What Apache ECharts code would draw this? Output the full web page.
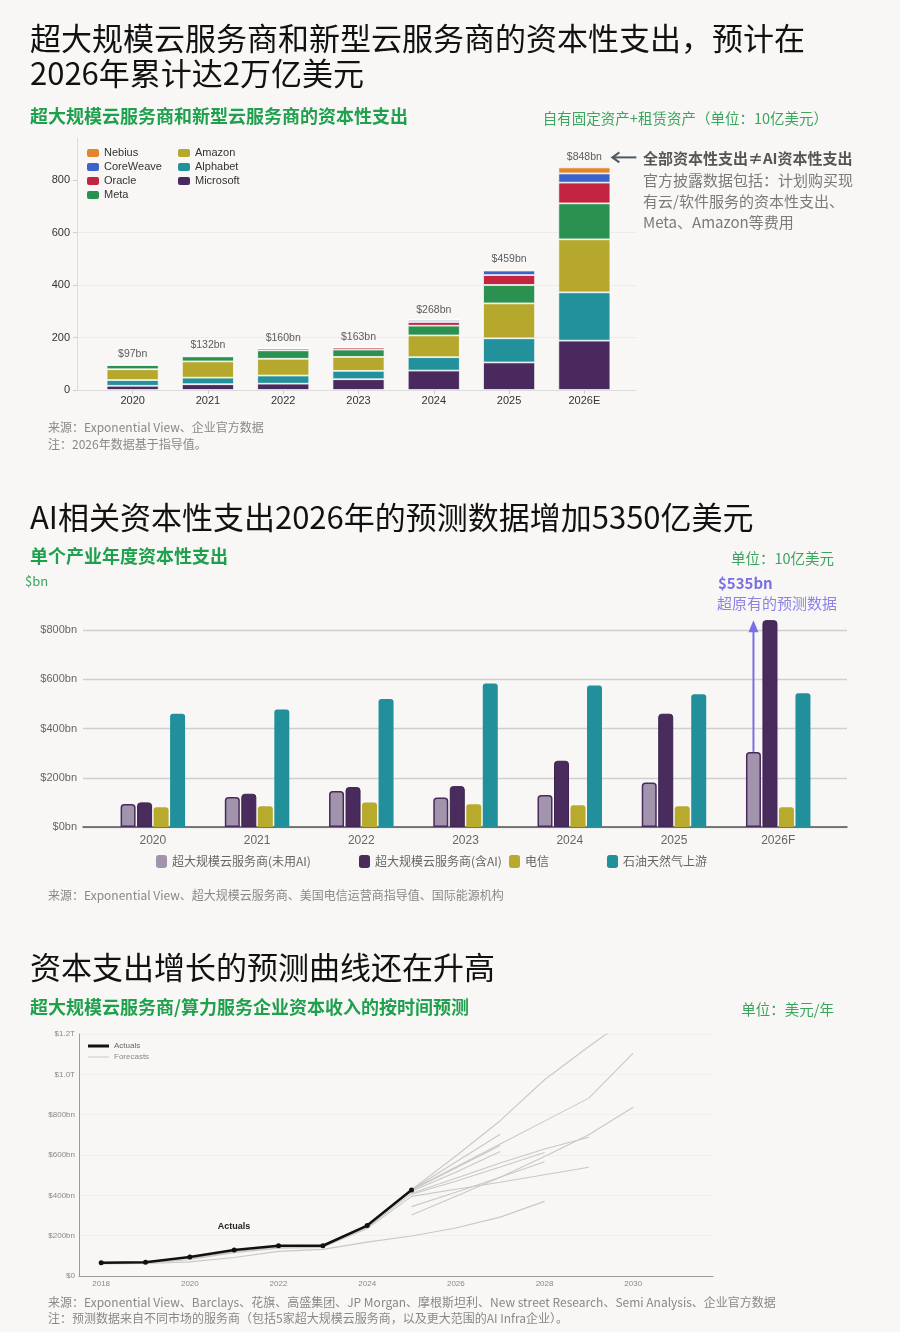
<!DOCTYPE html>
<html>
<head>
<meta charset="utf-8">
<script src="https://cdn.jsdelivr.net/npm/echarts@6.0.0/dist/echarts.min.js"></script>
<style>
    body { margin: 0; background: #f8f7f5; }
</style>
</head>
<body>
<div id="main" style="width: 900px;height:1332px;"></div>
<script>
// 图1：超大规模云服务商和新型云服务商的资本性支出（10亿美元）
var capexYears = ['2020', '2021', '2022', '2023', '2024', '2025', '2026E'];
var capexMicrosoft = [16, 22, 24, 41, 74, 105, 188];
var capexAlphabet = [22, 25, 31, 32, 51, 92, 184];
var capexAmazon = [41, 62, 64, 53, 83, 133, 202];
var capexMeta = [16, 19, 32, 28, 37, 70, 137];
var capexOracle = [2, 4, 7, 8, 14, 38, 79];
var capexCoreWeave = [0, 0, 2, 1, 8, 17, 35];
var capexNebius = [0, 0, 0, 0, 1, 4, 23];
var capexTotals = [97, 132, 160, 163, 268, 459, 848];
var capexTicks = [0, 200, 400, 600, 800];

// 图2：单个产业年度资本性支出
var sectorYears = ['2020', '2021', '2022', '2023', '2024', '2025', '2026F'];
var hyperNoAI = [93, 122, 146, 120, 130, 181, 305];
var hyperAI = [100, 135, 162, 166, 269, 460, 840];
var telecom = [80, 84, 100, 92, 88, 84, 80];
var oilGas = [460, 477, 520, 583, 575, 539, 543];

// 图3：实际值与各机构预测（[年份, 10亿美元]）
var lineYearTicks = [2018, 2020, 2022, 2024, 2026, 2028, 2030];
var actualYears = [2018, 2019, 2020, 2021, 2022, 2023, 2024, 2025];
var actualVals = [66, 68, 94, 129, 150, 150, 250, 427];
var fcLow = [[2018, 60], [2019, 62], [2020, 70], [2021, 92], [2022, 122], [2023, 132], [2024, 168], [2025, 198], [2026, 238], [2027, 292], [2028, 370]];
var fcHugA = [[2018, 62], [2019, 64], [2020, 82], [2021, 116], [2022, 138], [2023, 142], [2024, 235], [2025, 395], [2026, 430], [2027, 465], [2028, 502], [2029, 539]];
var fcHugB = [[2020, 86], [2021, 121], [2022, 143], [2023, 146], [2024, 240], [2025, 410], [2026, 485], [2027, 560], [2028, 630], [2029, 688]];
var fcTop = [[2024, 248], [2025, 428], [2026, 595], [2027, 770], [2028, 973], [2029, 1138], [2030, 1295]];
var fcSecond = [[2025, 428], [2026, 541], [2027, 655], [2028, 768], [2029, 882], [2030, 1105]];
var fcLate = [[2025, 303], [2026, 395], [2027, 490], [2028, 592], [2029, 700], [2030, 837]];
var fcShortA = [[2025, 344], [2026, 415], [2027, 490], [2028, 567]];
var fcShortB = [[2025, 405], [2026, 470], [2027, 540], [2028, 612]];
var fc2027A = [[2025, 428], [2026, 565], [2027, 703]];
var fc2027B = [[2025, 425], [2026, 535], [2027, 647]];
var fc2027C = [[2025, 420], [2026, 515], [2027, 617]];
var forecastLines = [fcLow, fcHugA, fcHugB, fcTop, fcSecond, fcLate, fcShortA, fcShortB, fc2027A, fc2027B, fc2027C];

var green = '#1fa04d';
var lightGreen = '#3ba55e';
var cjk = '"Noto Sans CJK SC", sans-serif';
var latin = '"Liberation Sans", Arial, sans-serif';

var idx7 = sectorYears.map(function (y, i) { return i; });
function pairs(arr) {
    return arr.map(function (v, i) { return [i, v]; });
}

var stackNames = ['Microsoft', 'Alphabet', 'Amazon', 'Meta', 'Oracle', 'CoreWeave', 'Nebius'];
var stackData = [capexMicrosoft, capexAlphabet, capexAmazon, capexMeta, capexOracle, capexCoreWeave, capexNebius];
var stackColors = ['#4a2a5e', '#23919b', '#b6a82c', '#2b9150', '#c3243f', '#3c64c8', '#e3862b'];

var series = [];
stackNames.forEach(function (name, k) {
    series.push({
        name: name,
        type: 'bar',
        xAxisIndex: 0,
        yAxisIndex: 0,
        stack: 'capex',
        barWidth: 52,
        itemStyle: { color: stackColors[k], borderColor: 'rgba(255,255,255,0.9)', borderWidth: 0.8 },
        data: stackData[k]
    });
});
// 柱顶合计
series.push({
    name: 'total',
    type: 'scatter',
    xAxisIndex: 0,
    yAxisIndex: 0,
    symbolSize: 1,
    itemStyle: { color: 'rgba(0,0,0,0)' },
    label: {
        show: true,
        position: 'top',
        distance: 4,
        color: '#333',
        fontSize: 10.5,
        fontFamily: latin,
        formatter: function (p) { return '$' + p.value + 'bn'; }
    },
    data: capexTotals
});

var sectorNames = ['超大规模云服务商(未用AI)', '超大规模云服务商(含AI)', '电信', '石油天然气上游'];
var sectorData = [hyperNoAI, hyperAI, telecom, oilGas];
var sectorStyles = [
    { color: '#a394ae', borderColor: '#482b5c', borderWidth: 1.5, borderRadius: [3, 3, 0, 0] },
    { color: '#4a2b5d', borderColor: '#3c2350', borderWidth: 1, borderRadius: [3, 3, 0, 0] },
    { color: '#b8aa2c', borderRadius: [3, 3, 0, 0] },
    { color: '#21909a', borderRadius: [3, 3, 0, 0] }
];
sectorNames.forEach(function (name, k) {
    series.push({
        name: name,
        type: 'bar',
        xAxisIndex: 1,
        yAxisIndex: 1,
        barWidth: 15,
        barGap: '10%',
        clip: false,
        itemStyle: sectorStyles[k],
        data: pairs(sectorData[k])
    });
});

forecastLines.forEach(function (line) {
    series.push({
        name: 'Forecasts',
        type: 'line',
        xAxisIndex: 2,
        yAxisIndex: 2,
        color: '#c8c8c8',
        symbol: 'none',
        lineStyle: { width: 1.1 },
        z: 2,
        data: line
    });
});
series.push({
    name: 'Actuals',
    type: 'line',
    xAxisIndex: 2,
    yAxisIndex: 2,
    color: '#111',
    symbol: 'circle',
    symbolSize: 5,
    lineStyle: { width: 2.6 },
    z: 10,
    data: actualYears.map(function (y, i) { return [y, actualVals[i]]; })
});

function legendBox(names, left, top, extra) {
    var l = {
        data: names,
        left: left,
        top: top,
        padding: 0,
        itemGap: 0,
        selectedMode: false,
        itemStyle: { borderWidth: 0 },
        textStyle: { fontSize: 11, color: '#333', fontFamily: latin, lineHeight: 14 }
    };
    for (var k in extra) { l[k] = extra[k]; }
    return l;
}

var sectorLegendText = { fontSize: 12, color: '#666', fontFamily: cjk };

var option = {
    backgroundColor: '#f8f7f5',
    animation: false,
    textStyle: { fontFamily: latin },
    grid: [
        { left: 95, right: 278, top: 138, bottom: 942 },   // 图1 柱子
        { left: 83, right: 53, top: 630, bottom: 505 },
        { left: 79, right: 187, top: 1034, bottom: 56 },
        { left: 77, right: 264, top: 138, bottom: 942 }    // 图1 外框坐标轴
    ],
    legend: [
        legendBox(['Nebius', 'CoreWeave', 'Oracle', 'Meta'], 87, 146, { orient: 'vertical', itemWidth: 12, itemHeight: 8 }),
        legendBox(['Amazon', 'Alphabet', 'Microsoft'], 178, 146, { orient: 'vertical', itemWidth: 12, itemHeight: 8 }),
        legendBox([sectorNames[0]], 156, 855, { itemWidth: 11, itemHeight: 13, textStyle: sectorLegendText }),
        legendBox([sectorNames[1]], 359, 855, { itemWidth: 11, itemHeight: 13, textStyle: sectorLegendText }),
        legendBox([sectorNames[2]], 509, 855, { itemWidth: 11, itemHeight: 13, textStyle: sectorLegendText }),
        legendBox([sectorNames[3]], 607, 855, { itemWidth: 11, itemHeight: 13, textStyle: sectorLegendText }),
        legendBox(['Actuals'], 88, 1042, { icon: 'rect', itemWidth: 21, itemHeight: 3, textStyle: { fontSize: 8, color: '#666', fontFamily: latin } }),
        legendBox(['Forecasts'], 88, 1053, { icon: 'rect', itemWidth: 21, itemHeight: 1, textStyle: { fontSize: 8, color: '#888', fontFamily: latin } })
    ],
    xAxis: [
        {
            gridIndex: 0, type: 'category', data: capexYears,
            axisLine: { show: false },
            axisTick: { show: true, alignWithLabel: true, length: 4, lineStyle: { color: '#cfcfcf' } },
            axisLabel: { color: '#333', fontSize: 11, margin: 5, interval: 0 },
            splitLine: { show: false }
        },
        {
            gridIndex: 1, type: 'value', min: -0.67, max: 6.66,
            axisLine: { lineStyle: { color: '#555', width: 1.5 } },
            axisTick: { show: false },
            axisLabel: { customValues: idx7, color: '#666', fontSize: 12, margin: 8,
                formatter: function (v) { return sectorYears[v]; } },
            splitLine: { show: false }
        },
        {
            gridIndex: 2, type: 'value', min: 2017.5, max: 2031.8,
            axisLine: { lineStyle: { color: '#9a9a9a' } },
            axisTick: { show: false },
            axisLabel: { customValues: lineYearTicks, color: '#888', fontSize: 8, margin: 4,
                formatter: function (v) { return String(v); } },
            splitLine: { show: false }
        },
        {
            gridIndex: 3, type: 'value', min: 0, max: 1,
            axisLine: { lineStyle: { color: '#dcdcdc' } },
            axisTick: { show: false },
            axisLabel: { show: false },
            splitLine: { show: false }
        }
    ],
    yAxis: [
        {
            gridIndex: 0, type: 'value', min: 0, max: 960,
            show: false
        },
        {
            gridIndex: 1, type: 'value', min: 0, max: 800, interval: 200,
            axisLine: { show: false, onZero: false },
            axisTick: { show: false },
            axisLabel: { color: '#666', fontSize: 11, margin: 6,
                formatter: function (v) { return '$' + v + 'bn'; } },
            splitLine: { lineStyle: { color: '#cfcfcf', width: 1.4 } }
        },
        {
            gridIndex: 2, type: 'value', min: 0, max: 1200, interval: 200,
            axisLine: { show: true, onZero: false, lineStyle: { color: '#9a9a9a' } },
            axisTick: { show: false },
            axisLabel: { color: '#888', fontSize: 8, margin: 4,
                formatter: function (v) {
                    if (v === 0) return '$0';
                    if (v >= 1000) return '$' + (v / 1000).toFixed(1) + 'T';
                    return '$' + v + 'bn';
                } },
            splitLine: { lineStyle: { color: '#efefef' } }
        },
        {
            gridIndex: 3, type: 'value', min: 0, max: 960, interval: 200,
            axisLine: { show: true, onZero: false, lineStyle: { color: '#dcdcdc' } },
            axisTick: { show: true, customValues: capexTicks, length: 4, lineStyle: { color: '#cfcfcf' } },
            axisLabel: { customValues: capexTicks, color: '#333', fontSize: 11, margin: 7 },
            splitLine: { showMaxLine: false, lineStyle: { color: '#ececec' } }
        }
    ],
    series: series
};

var chart = echarts.init(document.getElementById('main'));
chart.setOption(option);

function txt(x, y, s, size, color, bold, align, family) {
    return {
        type: 'text', x: x, y: y, silent: true,
        style: {
            text: s, fill: color,
            font: (bold ? 'bold ' : '') + size + 'px ' + (family || cjk),
            textAlign: align || 'left',
            textVerticalAlign: 'middle', verticalAlign: 'middle'
        }
    };
}

// 箭头位置按数据换算
var p848 = chart.convertToPixel({ gridIndex: 0 }, [6, capexTotals[6]]);
var ay = p848[1] - 10;
var pLo = chart.convertToPixel({ gridIndex: 1 }, [6, hyperNoAI[6]]);
var pHi = chart.convertToPixel({ gridIndex: 1 }, [6, hyperAI[6]]);
var ax = pLo[0] - 24.75;

var graphics = [
    txt(30, 38, '超大规模云服务商和新型云服务商的资本性支出，预计在', 31, '#111'),
    txt(30, 73, '2026年累计达2万亿美元', 31, '#111'),
    txt(30, 116, '超大规模云服务商和新型云服务商的资本性支出', 18, green, true),
    txt(828, 118, '自有固定资产+租赁资产（单位：10亿美元）', 14.5, lightGreen, false, 'right'),
    txt(643, 158, '全部资本性支出≠AI资本性支出', 15, '#555', true),
    txt(643, 180, '官方披露数据包括：计划购买现', 15, '#7a7a7a'),
    txt(643, 201, '有云/软件服务的资本性支出、', 15, '#7a7a7a'),
    txt(643, 222, 'Meta、Amazon等费用', 15, '#7a7a7a'),
    txt(48, 427, '来源：Exponential View、企业官方数据', 12, '#888'),
    txt(48, 444, '注：2026年数据基于指导值。', 12, '#888'),

    txt(30, 517, 'AI相关资本性支出2026年的预测数据增加5350亿美元', 31, '#111'),
    txt(30, 556, '单个产业年度资本性支出', 18, green, true),
    txt(834, 558, '单位：10亿美元', 14.5, lightGreen, false, 'right'),
    txt(25, 581, '$bn', 13, lightGreen),
    txt(718, 583, '$535bn', 15, '#7b6fe6', true),
    txt(717, 603, '超原有的预测数据', 15, '#8c82e8'),
    txt(48, 895, '来源：Exponential View、超大规模云服务商、美国电信运营商指导值、国际能源机构', 12, '#888'),

    txt(30, 967, '资本支出增长的预测曲线还在升高', 31, '#111'),
    txt(30, 1007, '超大规模云服务商/算力服务企业资本收入的按时间预测', 18, green, true),
    txt(834, 1009, '单位：美元/年', 14.5, lightGreen, false, 'right'),
    txt(234, 1227, 'Actuals', 9, '#222', true, 'center', latin),
    txt(48, 1302, '来源：Exponential View、Barclays、花旗、高盛集团、JP Morgan、摩根斯坦利、New street Research、Semi Analysis、企业官方数据', 12, '#888'),
    txt(48, 1318, '注：预测数据来自不同市场的服务商（包括5家超大规模云服务商，以及更大范围的AI Infra企业）。', 12, '#888'),

    { type: 'line', silent: true, shape: { x1: p848[0] + 52, y1: ay, x2: p848[0] + 28, y2: ay },
        style: { stroke: '#4c5963', lineWidth: 2 } },
    { type: 'polyline', silent: true,
        shape: { points: [[p848[0] + 35, ay - 5], [p848[0] + 28, ay], [p848[0] + 35, ay + 5]] },
        style: { stroke: '#4c5963', lineWidth: 2, fill: null } },
    { type: 'line', silent: true, shape: { x1: ax, y1: pLo[1], x2: ax, y2: pHi[1] + 8 },
        style: { stroke: '#7b6fe6', lineWidth: 2 } },
    { type: 'polygon', silent: true,
        shape: { points: [[ax - 5, pHi[1] + 12], [ax, pHi[1]], [ax + 5, pHi[1] + 12]] },
        style: { fill: '#7b6fe6' } }
];

chart.setOption({ graphic: graphics });
</script>
</body>
</html>
